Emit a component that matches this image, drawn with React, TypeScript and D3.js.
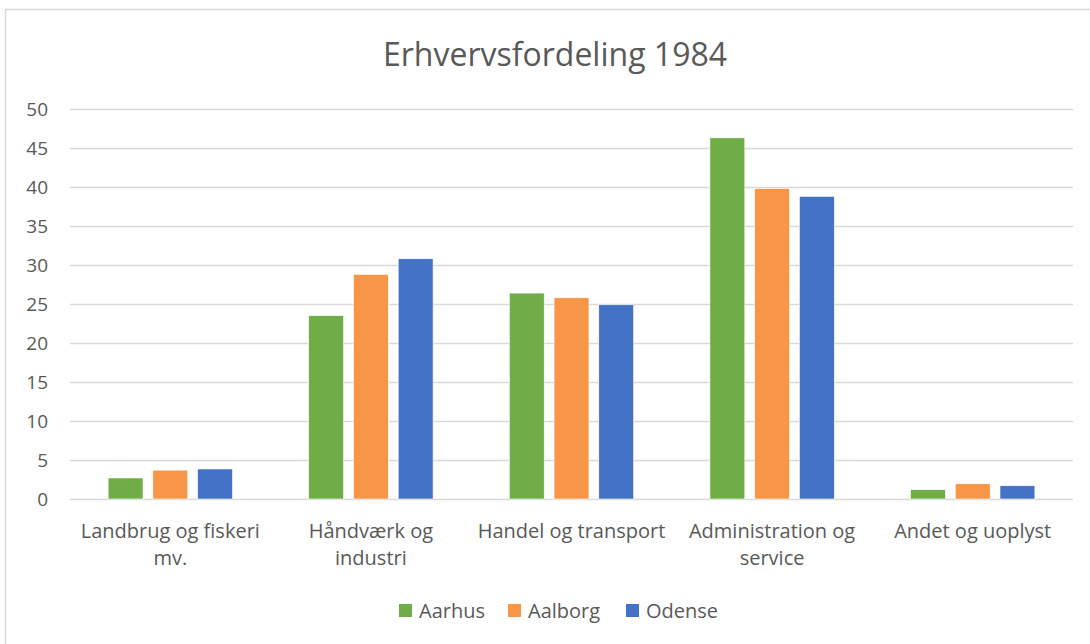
import React, { useRef, useEffect } from "react";
import * as d3 from "d3";

const categories = [
  ["Landbrug og fiskeri", "mv."],
  ["Håndværk og", "industri"],
  ["Handel og transport"],
  ["Administration og", "service"],
  ["Andet og uoplyst"],
];
const seriesNames = ["Aarhus", "Aalborg", "Odense"];
const aarhus = [2.7, 23.5, 26.4, 46.3, 1.2];
const aalborg = [3.7, 28.8, 25.8, 39.8, 1.95];
const odense = [3.85, 30.8, 24.9, 38.8, 1.7];
const colors = ["#70AD47", "#F79646", "#4472C4"];
const yTicks = [0, 5, 10, 15, 20, 25, 30, 35, 40, 45, 50];

const App = () => {
  const svgRef = useRef<SVGSVGElement>(null);
  const width = 1090;
  const height = 644;
  const margin = { top: 109, right: 17, bottom: 145, left: 70 };
  const font = "'Open Sans', sans-serif";
  const textColor = "#595959";

  useEffect(() => {
    const svg = d3.select(svgRef.current);
    svg.selectAll("*").remove();

    const values = [aarhus, aalborg, odense];
    const catKeys = categories.map((c) => c.join(" "));

    const x = d3
      .scaleBand()
      .domain(catKeys)
      .range([margin.left, width - margin.right]);
    const xInner = d3
      .scaleBand()
      .domain(seriesNames)
      .range([x.bandwidth() * 0.19, x.bandwidth() * 0.81])
      .paddingInner(0.22);
    const y = d3
      .scaleLinear()
      .domain([0, 50])
      .range([height - margin.bottom, margin.top]);

    // chart frame (cut at the right/bottom edge)
    svg
      .append("rect")
      .attr("x", 5.5)
      .attr("y", 9.5)
      .attr("width", width + 20)
      .attr("height", height + 20)
      .attr("fill", "white")
      .attr("stroke", "#d9d9d9")
      .attr("stroke-width", 1.5);

    // gridlines
    svg
      .selectAll(".grid")
      .data(yTicks)
      .enter()
      .append("line")
      .attr("x1", margin.left)
      .attr("x2", width - margin.right)
      .attr("y1", (d) => Math.round(y(d)) + 0.5)
      .attr("y2", (d) => Math.round(y(d)) + 0.5)
      .attr("stroke", "#d9d9d9")
      .attr("stroke-width", 1.3);

    // y tick labels
    svg
      .selectAll(".ytick")
      .data(yTicks)
      .enter()
      .append("text")
      .attr("x", 48)
      .attr("y", (d) => y(d))
      .attr("dy", "0.35em")
      .attr("text-anchor", "end")
      .style("font-family", font)
      .style("font-size", "19px")
      .style("fill", textColor)
      .text((d) => d);

    // bars
    const groups = svg
      .selectAll(".group")
      .data(catKeys)
      .enter()
      .append("g")
      .attr("transform", (d) => `translate(${x(d)},0)`);

    groups
      .selectAll("rect")
      .data((_, i) => seriesNames.map((s, j) => ({ s, j, v: values[j][i] })))
      .enter()
      .append("rect")
      .attr("x", (d) => xInner(d.s)!)
      .attr("width", xInner.bandwidth())
      .attr("y", (d) => y(d.v))
      .attr("height", (d) => y(0) - y(d.v))
      .attr("fill", (d) => colors[d.j])
      .attr("stroke", "white")
      .attr("stroke-width", 0.6);

    // x labels
    categories.forEach((lines, i) => {
      const cx = x(catKeys[i])! + x.bandwidth() / 2;
      lines.forEach((line, k) => {
        svg
          .append("text")
          .attr("x", cx)
          .attr("y", 531 + k * 27)
          .attr("dy", "0.35em")
          .attr("text-anchor", "middle")
          .style("font-family", font)
          .style("font-size", "20px")
          .style("fill", textColor)
          .text(line);
      });
    });

    // title
    svg
      .append("text")
      .attr("x", 555)
      .attr("y", 55)
      .attr("dy", "0.35em")
      .attr("text-anchor", "middle")
      .style("font-family", font)
      .style("font-size", "32px")
      .style("fill", textColor)
      .text("Erhvervsfordeling 1984");

    // legend
    const legendX = [399, 508, 626];
    seriesNames.forEach((s, j) => {
      svg
        .append("rect")
        .attr("x", legendX[j])
        .attr("y", 604)
        .attr("width", 13)
        .attr("height", 13)
        .attr("fill", colors[j]);
      svg
        .append("text")
        .attr("x", legendX[j] + 20)
        .attr("y", 611)
        .attr("dy", "0.35em")
        .style("font-family", font)
        .style("font-size", "20px")
        .style("fill", textColor)
        .text(s);
    });
  }, []);

  return (
    <svg
      ref={svgRef}
      width={width}
      height={height}
      style={{ position: "absolute", left: 0, top: 0 }}
    ></svg>
  );
};

export default App;
